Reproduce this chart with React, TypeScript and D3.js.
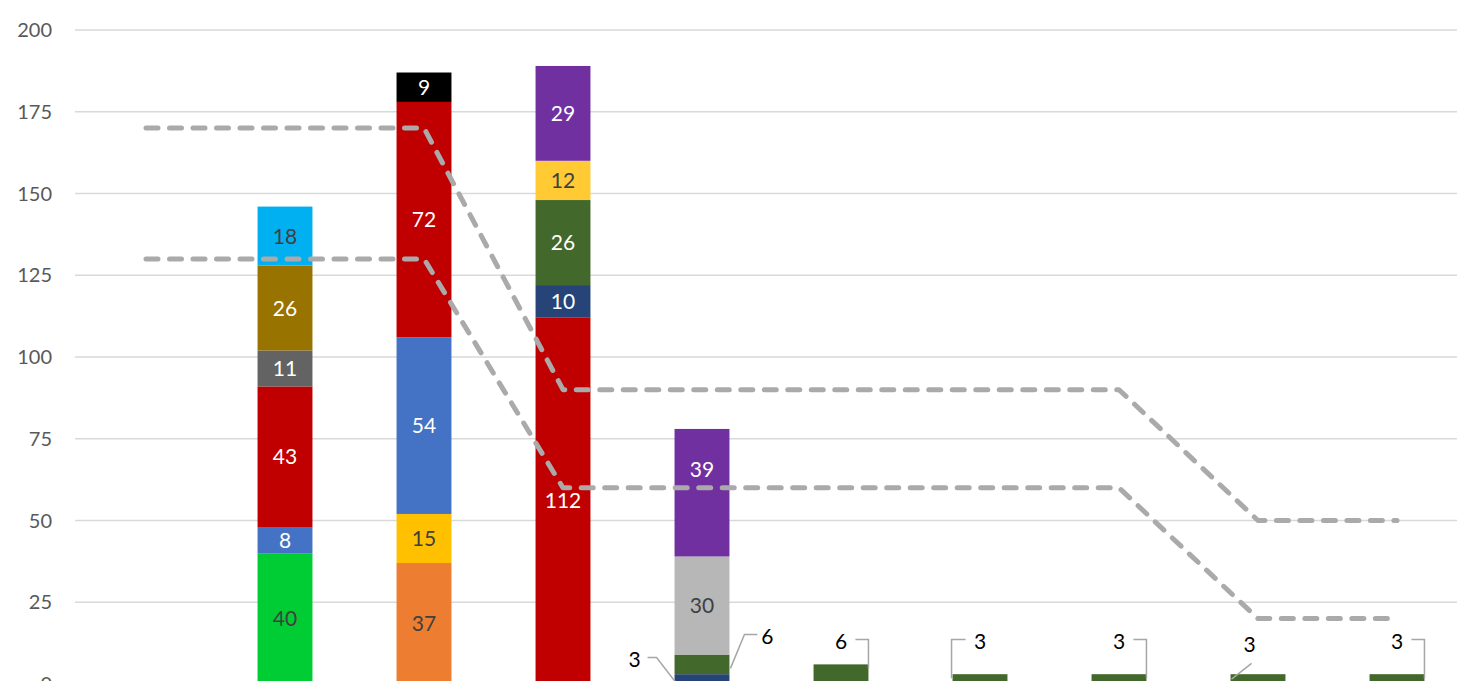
import * as d3 from "d3";

const W = 1457;
const H = 681;

const categories = ["A", "B", "C", "D", "E", "F", "G", "H", "I", "J"];
const yTicks = [0, 25, 50, 75, 100, 125, 150, 175, 200];

// stacked segments per category, bottom to top
const stackB = [40, 8, 43, 11, 26, 18];
const stackC = [37, 15, 54, 72, 9];
const stackD = [112, 10, 26, 12, 29];
const stackE = [3, 6, 30, 39];
const stackF = [6];
const stackG = [3];
const stackH = [3];
const stackI = [3];
const stackJ = [3];

const colorsB = ["#00CC33", "#4472C4", "#C00000", "#636363", "#997300", "#00B0F0"];
const colorsC = ["#ED7D31", "#FFC000", "#4472C4", "#C00000", "#000000"];
const colorsD = ["#C00000", "#264478", "#43682B", "#FFCA33", "#7030A0"];
const colorsE = ["#264478", "#43682B", "#B7B7B7", "#7030A0"];
const greenSmall = ["#43682B"];

// label ink per segment (dark or light)
const inkB = ["#404040", "#fff", "#fff", "#fff", "#fff", "#404040"];
const inkC = ["#404040", "#404040", "#fff", "#fff", "#fff"];
const inkD = ["#fff", "#fff", "#fff", "#404040", "#fff"];
const inkE = ["", "", "#404040", "#fff"];

const upperLine = [170, 170, 170, 90, 90, 90, 90, 90, 50, 50];
const lowerLine = [130, 130, 130, 60, 60, 60, 60, 60, 20, 20];

const stacks = [[], stackB, stackC, stackD, stackE, stackF, stackG, stackH, stackI, stackJ];
const colors = [[], colorsB, colorsC, colorsD, colorsE, greenSmall, greenSmall, greenSmall, greenSmall, greenSmall];
const inks = [[], inkB, inkC, inkD, inkE, [], [], [], [], []];

const x = d3.scaleBand<string>().domain(categories).range([76.5, 1466.5]).paddingInner(0.605).paddingOuter(0.3025);
const y = d3.scaleLinear().domain([0, 200]).range([684, 30]);

const FONT = "Lato, 'Open Sans', sans-serif";

export default function App() {
  const bw = x.bandwidth();
  const cx = (c: string) => (x(c) ?? 0) + bw / 2;

  const segs: any[] = [];
  stacks.forEach((vals, ci) => {
    let acc = 0;
    vals.forEach((v, si) => {
      segs.push({ c: categories[ci], y0: acc, y1: acc + v, v, fill: colors[ci][si], ink: inks[ci][si], ci, si });
      acc += v;
    });
  });

  const line = d3
    .line<number>()
    .x((_, i) => cx(categories[i]))
    .y((d) => y(d));

  // callout labels for thin segments
  const E = categories[4];
  const eL = x(E) ?? 0;
  const eR = eL + bw;
  const callouts: { text: string; tx: number; ty: number; path: string }[] = [];
  callouts.push({
    text: String(stackE[0]),
    tx: eL - 40,
    ty: y(7.5),
    path: `M${eL - 27},${y(7.5) - 2}H${eL - 18}L${eL + 1},${y(stackE[0] / 2) + 3}`,
  });
  callouts.push({
    text: String(stackE[1]),
    tx: eR + 38,
    ty: y(14.5),
    path: `M${eR + 28},${y(14.5) - 2}H${eR + 15}L${eR + 1},${y(stackE[0] + stackE[1] / 2) + 4}`,
  });
  const rightLeader = (ci: number, v: number) => {
    const l = x(categories[ci]) ?? 0;
    const r = l + bw;
    callouts.push({
      text: String(v),
      tx: cx(categories[ci]),
      ty: y(13),
      path: `M${r - 13},${y(13) - 2}H${r}V${y(v) + 4}`,
    });
  };
  const leftLeader = (ci: number, v: number) => {
    const l = x(categories[ci]) ?? 0;
    callouts.push({
      text: String(v),
      tx: cx(categories[ci]),
      ty: y(13),
      path: `M${l + 13},${y(13) - 2}H${l - 1}V${y(v) + 4}`,
    });
  };
  rightLeader(5, stackF[0]);
  leftLeader(6, stackG[0]);
  rightLeader(7, stackH[0]);
  {
    const l = x(categories[8]) ?? 0;
    callouts.push({
      text: String(stackI[0]),
      tx: l + 19,
      ty: y(12),
      path: `M${l + 21},${y(6.3)}L${l + 1},${y(1.5)}`,
    });
  }
  rightLeader(9, stackJ[0]);

  // the top label of the fifth stack sits higher than centre in the source
  const labelY = (s: any) => {
    const mid = (s.y0 + s.y1) / 2;
    return s.ci === 4 && s.si === 3 ? y(mid + 7) : y(mid);
  };

  return (
    <svg width={W} height={H} style={{ position: "absolute", left: 0, top: 0, overflow: "hidden", background: "#fff" }}>
      <g>
        {yTicks.map((t) => (
          <g key={t}>
            <line x1={75} x2={W} y1={y(t)} y2={y(t)} stroke="#D9D9D9" strokeWidth={1.5} />
            <text x={52} y={y(t)} dy="0.35em" textAnchor="end" fontFamily={FONT} fontSize={20} fill="#595959">
              {t}
            </text>
          </g>
        ))}
      </g>
      <g>
        {segs.map((s, i) => (
          <rect key={i} x={x(s.c)} width={bw} y={y(s.y1)} height={y(s.y0) - y(s.y1)} fill={s.fill} />
        ))}
      </g>
      <g fill="none" stroke="#ABA9A9" strokeWidth={5} strokeDasharray="12 11.5" strokeLinecap="round" strokeLinejoin="round">
        <path d={line(upperLine) ?? ""} />
        <path d={line(lowerLine) ?? ""} />
      </g>
      <g fontFamily={FONT} fontSize={21} textAnchor="middle">
        {segs
          .filter((s) => s.ink)
          .map((s, i) => (
            <text key={i} x={cx(s.c)} y={labelY(s)} dy="0.36em" fill={s.ink}>
              {s.v}
            </text>
          ))}
      </g>
      <g>
        {callouts.map((c, i) => (
          <g key={i}>
            <path d={c.path} fill="none" stroke="#A6A6A6" strokeWidth={1.5} />
            <text x={c.tx} y={c.ty} dy="0.36em" textAnchor="middle" fontFamily={FONT} fontSize={21} fill="#000">
              {c.text}
            </text>
          </g>
        ))}
      </g>
    </svg>
  );
}
